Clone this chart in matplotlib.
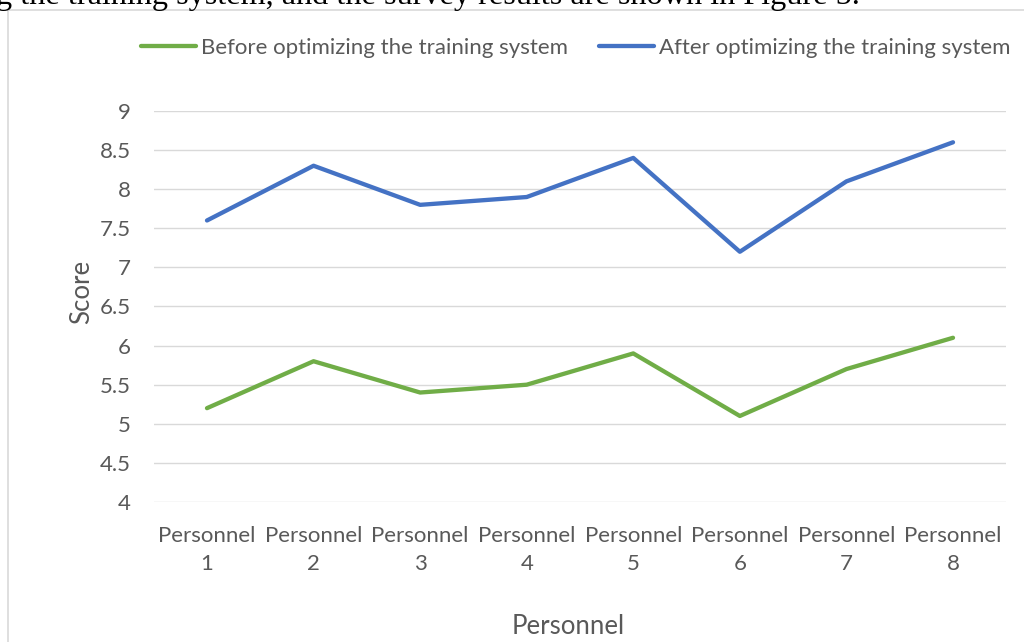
import matplotlib
matplotlib.use("Agg")
import matplotlib.pyplot as plt
from matplotlib.lines import Line2D

categories = ["Personnel\n1", "Personnel\n2", "Personnel\n3", "Personnel\n4",
              "Personnel\n5", "Personnel\n6", "Personnel\n7", "Personnel\n8"]
before = [5.2, 5.8, 5.4, 5.5, 5.9, 5.1, 5.7, 6.1]
after = [7.6, 8.3, 7.8, 7.9, 8.4, 7.2, 8.1, 8.6]
yticks = [4, 4.5, 5, 5.5, 6, 6.5, 7, 7.5, 8, 8.5, 9]
ytick_labels = ["4", "4.5", "5", "5.5", "6", "6.5", "7", "7.5", "8", "8.5", "9"]

W, H = 1024, 642
fig = plt.figure(figsize=(W / 100, H / 100), dpi=100)
plt.rcParams['font.family'] = ['Lato', 'DejaVu Sans']
TXT = '#595959'

# axes placement in pixels
x0, x1 = 153.7, 1006.3
ytop, ybot = 111, 502
ax = fig.add_axes([x0 / W, 1 - ybot / H, (x1 - x0) / W, (ybot - ytop) / H])

xs = list(range(len(categories)))
green = '#70ad47'
blue = '#4472c4'
ax.plot(xs, before, color=green, lw=3.1, solid_capstyle='round', solid_joinstyle='round',
        label='Before optimizing the training system')
ax.plot(xs, after, color=blue, lw=3.1, solid_capstyle='round', solid_joinstyle='round',
        label='After optimizing the training system')

ax.set_xlim(-0.5, len(categories) - 0.5)
ax.set_ylim(4, 9)
ax.set_yticks(yticks)
ax.set_yticklabels(ytick_labels)
ax.set_xticks(xs)
ax.set_xticklabels(categories)
ax.grid(axis='y', color='#d9d9d9', lw=1)
ax.set_axisbelow(True)
for s in ax.spines.values():
    s.set_visible(False)
ax.tick_params(axis='both', length=0, colors=TXT, labelsize=16)
ax.tick_params(axis='y', pad=16.5)
ax.tick_params(axis='x', pad=17)
for lab in ax.get_xticklabels():
    lab.set_linespacing(1.55)

fig.text(82 / W, 1 - 292 / H, 'Score', rotation=90, ha='center', va='center',
         color=TXT, fontsize=18.5)
fig.text(568 / W, 1 - 627 / H, 'Personnel', ha='center', va='center',
         color=TXT, fontsize=18.5)

# legend
leg = ax.legend(loc='center', bbox_to_anchor=(576 / W, 1 - 48 / H),
                bbox_transform=fig.transFigure, ncol=2, frameon=False,
                fontsize=16, handlelength=2.45, handletextpad=0.25,
                columnspacing=1.4, labelcolor=TXT)

# chart border (partially visible)
fig.add_artist(Line2D([8 / W, 1], [1 - 10 / H, 1 - 10 / H], color='#d9d9d9', lw=1.2,
                      transform=fig.transFigure))
fig.add_artist(Line2D([8 / W, 8 / W], [0, 1 - 10 / H], color='#d9d9d9', lw=1.2,
                      transform=fig.transFigure))

# clipped caption text from the page above
fig.text(-4 / W, 1 - 4 / H,
         'g the training system, and the survey results are shown in Figure 5.',
         ha='left', va='baseline', family='Liberation Serif', fontsize=23.2, color='black')

fig.savefig('out.png', dpi=100)
